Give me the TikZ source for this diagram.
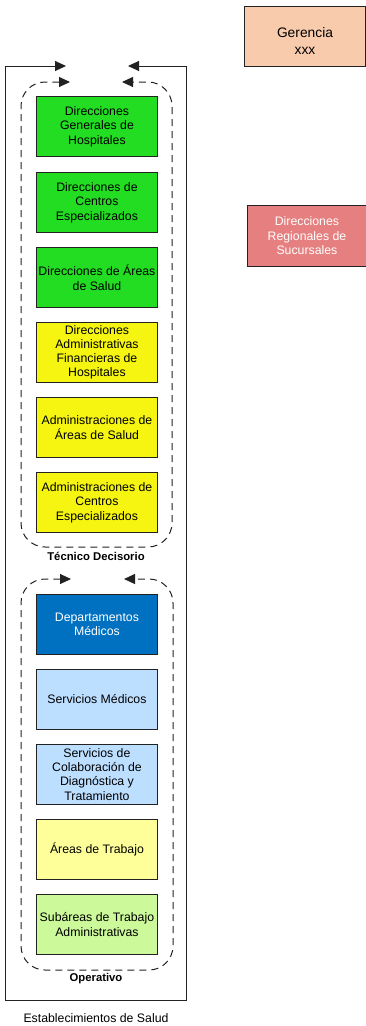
\documentclass[tikz,border=0pt]{standalone}
\usepackage{fontspec}
\setmainfont{Liberation Sans}
\usetikzlibrary{arrows.meta}
\definecolor{cgreen}{HTML}{22DD22}
\definecolor{cyellow}{HTML}{F5F511}
\definecolor{cblue}{HTML}{0070C0}
\definecolor{clblue}{HTML}{BDDFFF}
\definecolor{clyellow}{HTML}{FFFF99}
\definecolor{clgreen}{HTML}{CCF99A}
\definecolor{csalmon}{HTML}{F8CBAD}
\definecolor{cpink}{HTML}{E67F7F}
\definecolor{cline}{HTML}{222222}
\tikzset{
  unit/.style={draw=cline, line width=0.9pt, minimum width=121pt, minimum height=60pt,
    inner sep=1pt, align=center, font=\fontsize{12.3}{14.6}\selectfont, anchor=north west},
  loopline/.style={draw=cline, line width=1pt, dash pattern=on 7pt off 5pt, rounded corners=24pt},
  tips/.style={{Triangle[length=11pt,width=10pt]}-{Triangle[length=11pt,width=10pt]}},
  lbl/.style={font=\bfseries\fontsize{11.3}{13}\selectfont, inner sep=1pt}
}
\begin{document}
\begin{tikzpicture}[x=1pt,y=-1pt]
\useasboundingbox (0,0) rectangle (366,1026);
% outer frame
\coordinate (oa) at (66,66);
\coordinate (ob) at (128,66);
\draw[tips, draw=cline, line width=1pt] (oa) -- (5,66) -- (5,1000) -- (186,1000) -- (186,66) -- (ob);
% boxes
\node[unit, fill=cgreen] (b1) at (36,96) {Direcciones\\Generales de\\Hospitales};
\node[unit, fill=cgreen] (b2) at (36,172) {Direcciones de\\Centros\\Especializados};
\node[unit, fill=cgreen] (b3) at (36,247) {Direcciones de Áreas\\de Salud};
\node[unit, fill=cyellow, font=\fontsize{12.3}{14.2}\selectfont] (b4) at (36,322) {Direcciones\\Administrativas\\Financieras de\\Hospitales};
\node[unit, fill=cyellow] (b5) at (36,397) {Administraciones de\\Áreas de Salud};
\node[unit, fill=cyellow] (b6) at (36,472) {Administraciones de\\Centros\\Especializados};
\node[unit, fill=cblue, text=white] (b7) at (36,594) {Departamentos\\Médicos};
\node[unit, fill=clblue] (b8) at (36,669) {Servicios Médicos};
\node[unit, fill=clblue, font=\fontsize{12.3}{14.2}\selectfont] (b9) at (36,744) {Servicios de\\Colaboración de\\Diagnóstica y\\Tratamiento};
\node[unit, fill=clyellow] (b10) at (36,819) {Áreas de Trabajo};
\node[unit, fill=clgreen] (b11) at (36,894) {Subáreas de Trabajo\\Administrativas};
% right boxes
\node[unit, fill=csalmon, minimum width=121pt, minimum height=60pt] (g) at (244,6) {};
\node[align=center, inner sep=0pt, font=\fontsize{13.8}{17.5}\selectfont] (gt) at (305,41) {Gerencia\\xxx};
\node[unit, fill=cpink, text=white, minimum width=119pt, minimum height=61pt] (dr) at (247,205) {Direcciones\\Regionales de\\Sucursales};
% dashed loops
\coordinate (l1a) at (70,82);
\coordinate (l1b) at (122,82);
\draw[loopline, tips] (l1a) -- (21,82) -- (21,547) -- (172,547) -- (172,82) -- (l1b);
\coordinate (l2a) at (71,579);
\coordinate (l2b) at (124,579);
\draw[loopline, tips] (l2a) -- (21,579) -- (21,970) -- (173,970) -- (173,579) -- (l2b);
% labels
\node[lbl] (t1) at (96,556) {Técnico Decisorio};
\node[lbl] (t2) at (96,979) {Operativo};
\node[font=\fontsize{12.3}{14}\selectfont] (t3) at (96,1018) {Establecimientos de Salud};
\end{tikzpicture}
\end{document}
